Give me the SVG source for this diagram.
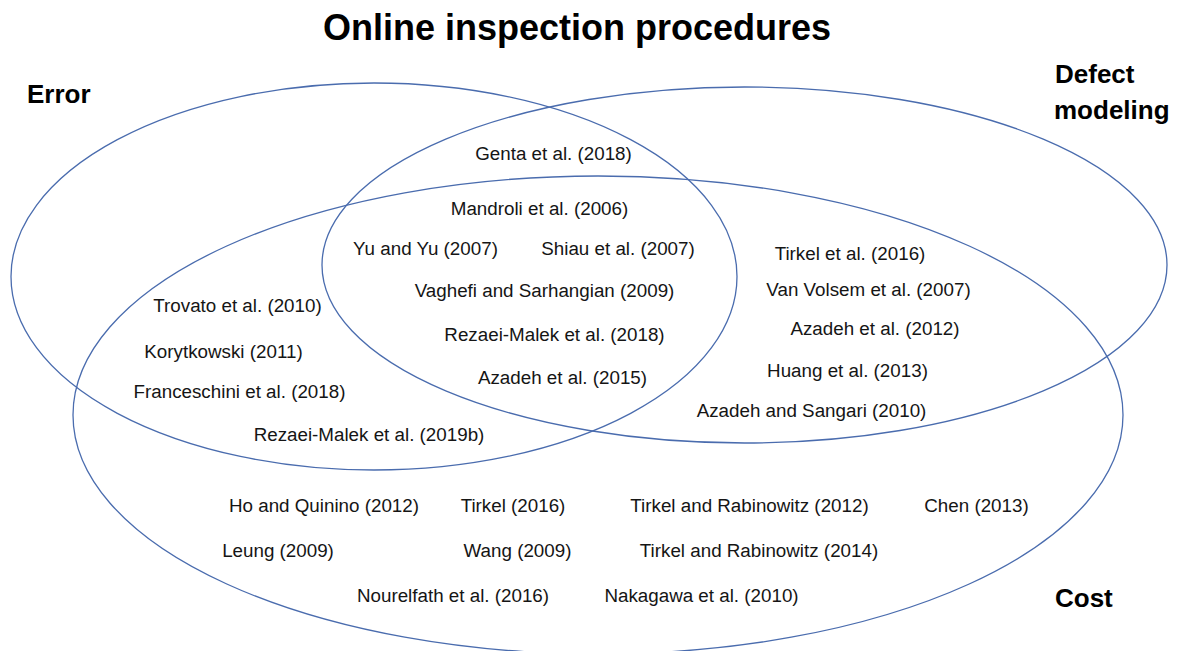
<svg xmlns="http://www.w3.org/2000/svg" width="1181" height="651" viewBox="0 0 1181 651">
<style>
.set{fill:none;stroke:#4a6cae;stroke-width:1.3}
.t{font-family:"Liberation Sans",Arial,sans-serif;font-size:18.8px;fill:#151515;text-anchor:middle}
.lbl{font-family:"Liberation Sans",Arial,sans-serif;font-weight:bold;font-size:26px;fill:#000}
.title{font-family:"Liberation Sans",Arial,sans-serif;font-weight:bold;font-size:36px;fill:#000;text-anchor:middle}
</style>
<rect width="1181" height="651" fill="#fff"/>
<text class="title" x="577" y="40">Online inspection procedures</text>
<g id="set-error">
<ellipse class="set" cx="374" cy="276.5" rx="363" ry="193.5"/>
<text class="lbl" x="27" y="103">Error</text>
</g>
<g id="set-defect">
<ellipse class="set" cx="744.5" cy="265" rx="422.5" ry="178"/>
<text class="lbl" x="1055" y="83">Defect</text>
<text class="lbl" x="1054" y="119">modeling</text>
</g>
<g id="set-cost">
<ellipse class="set" cx="598" cy="415" rx="525" ry="239"/>
<text class="lbl" x="1055" y="607">Cost</text>
</g>
<g id="refs">
<text class="t" x="553.5" y="160">Genta et al. (2018)</text>
<text class="t" x="539.5" y="215">Mandroli et al. (2006)</text>
<text class="t" x="425.5" y="255">Yu and Yu (2007)</text>
<text class="t" x="618" y="255">Shiau et al. (2007)</text>
<text class="t" x="544.5" y="297">Vaghefi and Sarhangian (2009)</text>
<text class="t" x="554.5" y="341">Rezaei-Malek et al. (2018)</text>
<text class="t" x="562.5" y="384">Azadeh et al. (2015)</text>
<text class="t" x="237.5" y="312">Trovato et al. (2010)</text>
<text class="t" x="223.5" y="358">Korytkowski (2011)</text>
<text class="t" x="239.5" y="398">Franceschini et al. (2018)</text>
<text class="t" x="369" y="441">Rezaei-Malek et al. (2019b)</text>
<text class="t" x="850" y="260">Tirkel et al. (2016)</text>
<text class="t" x="868.5" y="296">Van Volsem et al. (2007)</text>
<text class="t" x="875" y="335">Azadeh et al. (2012)</text>
<text class="t" x="847.5" y="377">Huang et al. (2013)</text>
<text class="t" x="811.5" y="417">Azadeh and Sangari (2010)</text>
<text class="t" x="324" y="512">Ho and Quinino (2012)</text>
<text class="t" x="513" y="512">Tirkel (2016)</text>
<text class="t" x="749.5" y="512">Tirkel and Rabinowitz (2012)</text>
<text class="t" x="976.5" y="512">Chen (2013)</text>
<text class="t" x="278" y="557">Leung (2009)</text>
<text class="t" x="517.5" y="557">Wang (2009)</text>
<text class="t" x="759" y="557">Tirkel and Rabinowitz (2014)</text>
<text class="t" x="453" y="602">Nourelfath et al. (2016)</text>
<text class="t" x="701.5" y="602">Nakagawa et al. (2010)</text>
</g>
</svg>
